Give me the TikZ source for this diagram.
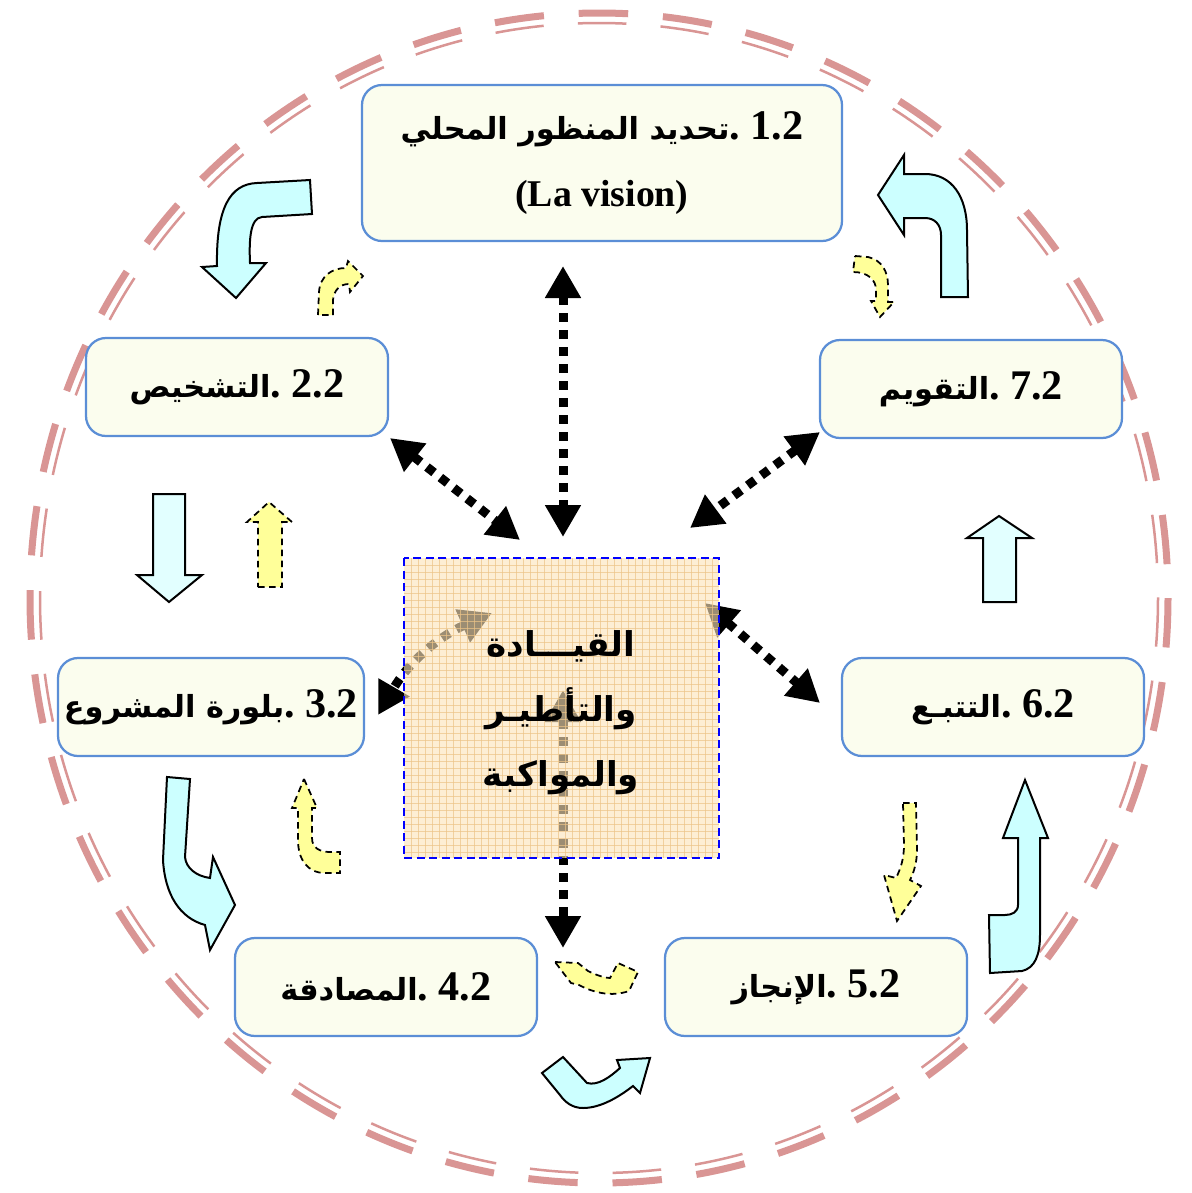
\documentclass[tikz,border=0pt]{standalone}
\usepackage{fontspec}
\setmainfont{Liberation Serif}
\newfontfamily\arabicfont[Script=Arabic, Scale=0.72]{DejaVu Sans}
\TeXXeTstate=1
\usetikzlibrary{arrows.meta}

\definecolor{ringpink}{RGB}{217,149,148}
\definecolor{boxfill}{RGB}{251,253,238}
\definecolor{boxline}{RGB}{91,142,214}
\definecolor{bentcyan}{RGB}{204,255,255}
\definecolor{palecyan}{RGB}{226,255,255}
\definecolor{softyellow}{RGB}{255,255,153}
\definecolor{peach}{RGB}{252,228,186}
\definecolor{peachgrid}{RGB}{236,196,136}

\newcommand{\stepnum}[1]{\beginL#1\endL\ .}

\begin{document}
\begin{tikzpicture}[x=0.2mm, y=-0.2mm,
	stepbox/.style={draw=boxline, line width=0.45mm, fill=boxfill, rounded corners=4mm, minimum width=60.4mm, minimum height=19.6mm, align=center, font=\bfseries\fontsize{24}{35}\selectfont},
	cyanarrow/.style={draw=black, line width=0.4mm, fill=bentcyan},
	hintarrow/.style={draw=black, line width=0.35mm, dash pattern=on 1.3mm off 0.9mm, fill=softyellow},
	lead/.style={line width=1.8mm, dash pattern=on 1.8mm off 1.6mm, arrows={Triangle[length=6.4mm,width=6.8mm]-Triangle[length=6.4mm,width=6.8mm]}}]
	\useasboundingbox (0,0) rectangle (1192,1193);

	% outer ring
	\draw[ringpink, line width=1.4mm, dash pattern=on 9.9mm off 6.97mm] (599,598) ellipse[x radius=569, y radius=585];
	\draw[ringpink, line width=0.5mm, dash pattern=on 9.73mm off 6.84mm] (599,598) ellipse[x radius=559, y radius=575];

	% big cyan arrows
	\filldraw[cyanarrow] (310,180) -- (257,183) .. controls (230,184) and (216,208) .. (217,266) -- (202,267) -- (236,298) -- (266,263) -- (250,263) .. controls (249,240) and (250,218) .. (262,217) -- (312,214) -- cycle;
	\filldraw[cyanarrow] (878,195) -- (904,155) -- (904,174) -- (925,174) .. controls (952,174) and (967,197) .. (967,230) -- (968,297) -- (941,297) -- (941,235) .. controls (941,225) and (935,218) .. (925,218) -- (904,218) -- (904,235) -- cycle;
	\filldraw[cyanarrow, fill=palecyan] (153,494) -- (185,494) -- (185,575) -- (202,575) -- (169,602) -- (137,575) -- (153,575) -- cycle;
	\filldraw[cyanarrow, fill=palecyan] (983,602) -- (1016,602) -- (1016,538) -- (1032,538) -- (999,516) -- (967,538) -- (983,538) -- cycle;
	\filldraw[cyanarrow] (167,777) -- (190,779) -- (185,857) .. controls (186,868) and (196,876) .. (210,878) -- (213,857) -- (235,905) -- (210,950) -- (205,925) .. controls (180,918) and (165,895) .. (163,860) -- cycle;
	\filldraw[cyanarrow] (542,1073) -- (563,1057) -- (587,1083) .. controls (598,1086) and (610,1077) .. (620,1068) -- (617,1060) -- (650,1058) -- (640,1093) -- (633,1086) .. controls (615,1100) and (598,1108) .. (583,1108) .. controls (572,1108) and (565,1102) .. (560,1095) -- cycle;
	\filldraw[cyanarrow] (989,915) -- (990,973) -- (1022,971) .. controls (1035,968) and (1040,955) .. (1040,935) -- (1040,838) -- (1048,838) -- (1025,780) -- (1003,838) -- (1018,838) -- (1018,905) .. controls (1018,912) and (1012,915) .. (1005,915) -- cycle;

	% small yellow arrows
	\filldraw[hintarrow] (318,315) -- (319,292) .. controls (320,276) and (332,268) .. (346,268) -- (348,261) -- (363,276) -- (350,292) -- (349,284) .. controls (340,284) and (334,290) .. (333,300) -- (333,315) -- cycle;
	\filldraw[hintarrow] (855,256) -- (868,257) .. controls (882,260) and (888,272) .. (888,285) -- (888,302) -- (894,302) -- (880,317) -- (871,301) -- (876,301) -- (876,290) .. controls (876,280) and (868,272) .. (853,272) -- cycle;
	\filldraw[hintarrow] (258,587) -- (282,587) -- (282,522) -- (292,522) -- (269,502) -- (247,522) -- (258,522) -- cycle;
	\filldraw[hintarrow] (304,779) -- (317,808) -- (312,808) -- (312,838) .. controls (312,848) and (320,852) .. (330,852) -- (340,852) -- (340,873) -- (325,873) .. controls (308,873) and (298,860) .. (298,840) -- (298,808) -- (292,808) -- cycle;
	\filldraw[hintarrow] (903,803) -- (916,803) -- (917,850) .. controls (917,862) and (914,872) .. (910,880) -- (921,886) -- (897,921) -- (884,875) -- (896,878) .. controls (901,868) and (904,858) .. (904,845) -- cycle;
	\filldraw[hintarrow] (555,962) -- (578,963) -- (588,971) .. controls (598,976) and (606,978) .. (610,978) -- (618,963) -- (638,972) -- (629,991) .. controls (612,997) and (594,993) .. (579,985) -- (571,983) -- cycle;

	% dotted links to the centre
	\coordinate (v1a) at (563,266);
	\coordinate (v1b) at (563,537);
	\coordinate (d2a) at (390,438);
	\coordinate (d2b) at (520,540);
	\coordinate (d7a) at (820,432);
	\coordinate (d7b) at (690,528);
	\coordinate (d3a) at (378,715);
	\coordinate (d3b) at (492,613);
	\coordinate (d6a) at (705,603);
	\coordinate (d6b) at (820,703);
	\coordinate (v4a) at (563,690);
	\coordinate (v4b) at (563,948);
	\draw[lead] (v1a) -- (v1b);
	\draw[lead] (d2a) -- (d2b);
	\draw[lead] (d7a) -- (d7b);
	\draw[lead] (d3b) to[bend right=18] (d3a);
	\draw[lead] (d6a) -- (d6b);
	\draw[lead] (v4a) -- (v4b);

	% centre square
	\fill[peach, fill opacity=0.62] (404,558) rectangle (719,858);
	\foreach \gx in {411,418,...,718}
		\draw[peachgrid, line width=0.12mm, opacity=0.7] (\gx,558) -- (\gx,858);
	\foreach \gy in {565,572,...,857}
		\draw[peachgrid, line width=0.12mm, opacity=0.7] (404,\gy) -- (719,\gy);
	\draw[blue, line width=0.35mm, dash pattern=on 1.6mm off 0.9mm] (404,558) rectangle (719,858);
	\node[align=center, font=\arabicfont\bfseries\fontsize{27}{37}\selectfont] (core) at (561,713) {\beginR القيـــادة\endR\\\beginR والتأطيـر\endR\\\beginR والمواكبة\endR};

	% the seven steps
	\node[stepbox, minimum width=96mm, minimum height=31.2mm] (vision) at (602,163) {\beginR\stepnum{1.2}{\arabicfont تحديد المنظور المحلي}\endR\\[1.2mm]{\fontsize{21.5}{26}\selectfont (La vision)}};
	\node[stepbox] (diag) at (237,387) {\beginR\stepnum{2.2}{\arabicfont التشخيص}\endR};
	\node[stepbox] (proj) at (211,707) {\beginR\stepnum{3.2}{\arabicfont بلورة المشروع}\endR};
	\node[stepbox] (valid) at (386,987) {\beginR\stepnum{4.2}{\arabicfont المصادقة}\endR};
	\node[stepbox] (done) at (816,987) {\beginR\stepnum{5.2}{\arabicfont الإنجاز}\endR};
	\node[stepbox] (track) at (993,707) {\beginR\stepnum{6.2}{\arabicfont التتبـع}\endR};
	\node[stepbox] (eval) at (971,389) {\beginR\stepnum{7.2}{\arabicfont التقويم}\endR};
\end{tikzpicture}
\end{document}
